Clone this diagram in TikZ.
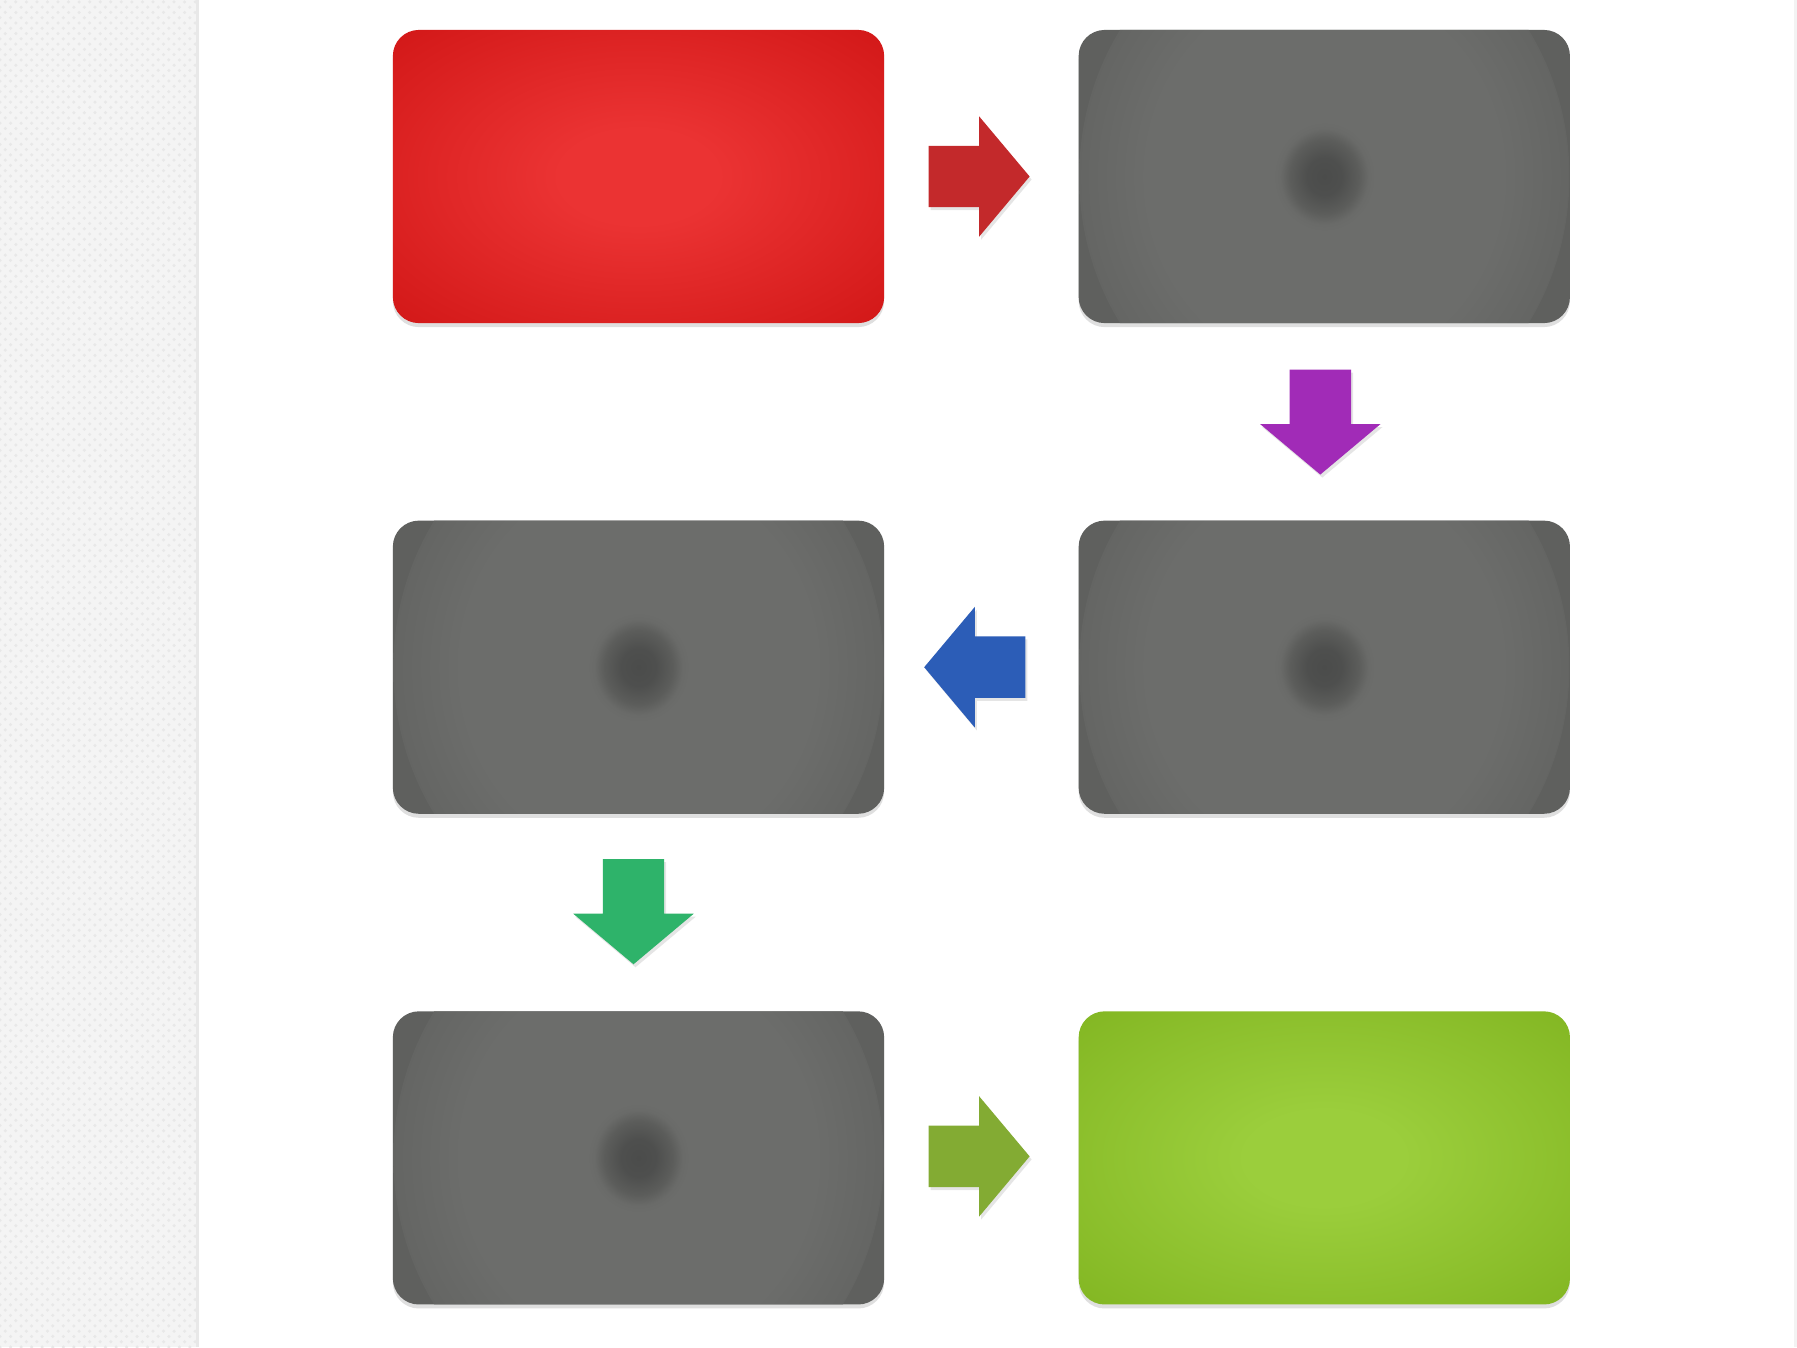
\documentclass[tikz,border=0pt]{standalone}
\usepackage{tikz}
\usetikzlibrary{shapes}
\usetikzlibrary{shapes.arrows}
\usetikzlibrary{positioning}
\usetikzlibrary{calc}
\usetikzlibrary{shadows}
\usetikzlibrary{patterns}
\definecolor{redin}{HTML}{EB3333}
\definecolor{redout}{HTML}{C50909}
\definecolor{limein}{HTML}{9BCE3C}
\definecolor{limeout}{HTML}{76AA15}
\definecolor{greydark}{HTML}{4B4C4B}
\definecolor{greymid}{HTML}{5C5D5B}
\definecolor{greylight}{HTML}{6C6D6B}
\definecolor{greyedge}{HTML}{5F605E}
\definecolor{arrowred}{HTML}{C3292B}
\definecolor{arrowpurple}{HTML}{A12BB7}
\definecolor{arrowblue}{HTML}{2C5DB7}
\definecolor{arrowgreen}{HTML}{2EB36A}
\definecolor{arrowolive}{HTML}{83AB33}
\definecolor{stripgrey}{HTML}{F4F4F4}
\pgfdeclareradialshading{redglow}{\pgfpoint{0bp}{0bp}}{color(0bp)=(redin); color(8bp)=(redin); color(50bp)=(redout)}
\pgfdeclareradialshading{limeglow}{\pgfpoint{0bp}{0bp}}{color(0bp)=(limein); color(8bp)=(limein); color(50bp)=(limeout)}
\pgfdeclareradialshading{greyspot}{\pgfpoint{0bp}{0bp}}{color(0bp)=(greydark); color(1.8bp)=(greydark!80!greymid); color(3.5bp)=(greymid); color(4.5bp)=(greylight!85!greymid); color(5.2bp)=(greylight); color(18bp)=(greylight); color(24bp)=(greylight!50!greyedge); color(29bp)=(greyedge); color(50bp)=(greyedge)}
\tikzset{
    mybox/.style = {rectangle, draw=none, rounded corners=0.26cm, minimum width=4.91cm, minimum height=2.93cm,
                    drop shadow={shadow xshift=0pt, shadow yshift=-0.04cm, opacity=0.25}},
    myboxr/.style = {mybox, shading=redglow},
    myboxl/.style = {mybox, shading=limeglow},
    myboxg/.style = {mybox, fill=greyedge,
                     path picture={\shade[shading=greyspot] (path picture bounding box.center) ellipse (2.45cm and 2.65cm);}},
    arrowbox/.style = {single arrow, draw=none, inner xsep=0pt, inner ysep=0.30cm, single arrow head extend=0.295cm,
                       single arrow tip angle=100, single arrow head indent=0pt,
                       drop shadow={shadow xshift=0.02cm, shadow yshift=-0.03cm, opacity=0.2}},
    arrowh/.style = {arrowbox, minimum height=1.01cm},
    arrowv/.style = {arrowbox, minimum height=1.05cm, rotate=-90},
}
\begin{document}
\begin{tikzpicture}[x=0.01cm, y=-0.01cm]
  \useasboundingbox (0,0) rectangle (1797,1347);
  \fill[white] (0,0) rectangle (1797,1347);
  % side strip
  \fill[stripgrey] (0,0) rectangle (197,1347);
  \fill[pattern=crosshatch dots, pattern color=black!9] (0,0) rectangle (197,1347);
  \draw[black!9, line width=0.03cm] (197,0) -- (197,1347);
  \fill[stripgrey!80!black!20] (1794,0) rectangle (1797,1347);

  % boxes
  \node[myboxr] (red) at (638.5,176.5) {};
  \node[myboxg, right=1.93cm of red] (grey1) {};
  \node[myboxg, below=1.96cm of grey1] (grey2) {};
  \node[myboxg, left=1.93cm of grey2] (grey3) {};
  \node[myboxg, below=1.96cm of grey3] (grey4) {};
  \node[myboxl, right=1.93cm of grey4] (lime) {};

  % arrows
  \node[arrowh, fill=arrowred, anchor=tail] (a1) at ($(red.east)+(43,0)$) {};
  \node[arrowv, fill=arrowpurple, anchor=tail] (a2) at ($(grey1.south)+(-4,45)$) {};
  \node[arrowh, fill=arrowblue, rotate=180, anchor=tail] (a3) at ($(grey2.west)+(-52,0)$) {};
  \node[arrowv, fill=arrowgreen, anchor=tail] (a4) at ($(grey3.south)+(-5,44)$) {};
  \node[arrowh, fill=arrowolive, anchor=tail] (a5) at ($(grey4.east)+(43,-1.5)$) {};
\end{tikzpicture}
\end{document}
